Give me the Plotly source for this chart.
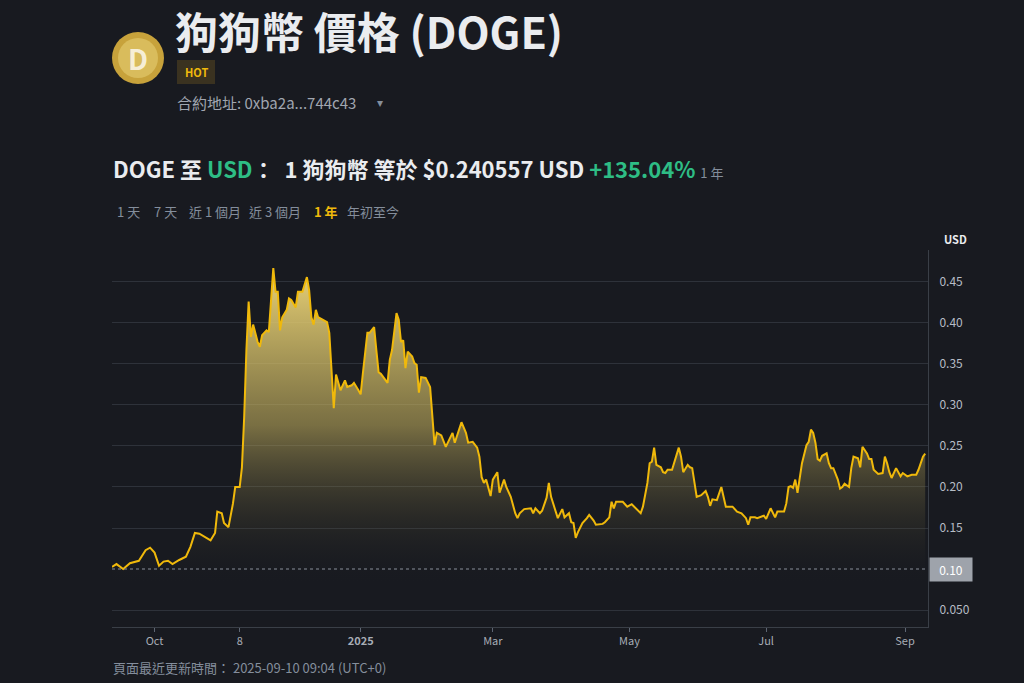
import pandas as pd
import plotly.graph_objects as go

# ---------------- data ----------------
prices_sep_oct_2024 = [
    ("2024-09-12", 0.1024), ("2024-09-14", 0.106), ("2024-09-17", 0.100), ("2024-09-20", 0.107),
    ("2024-09-24", 0.110), ("2024-09-27", 0.123), ("2024-09-29", 0.126), ("2024-10-01", 0.120),
    ("2024-10-03", 0.104), ("2024-10-05", 0.109), ("2024-10-07", 0.110), ("2024-10-09", 0.106),
    ("2024-10-12", 0.111), ("2024-10-15", 0.115), ("2024-10-17", 0.127), ("2024-10-19", 0.144),
    ("2024-10-21", 0.143), ("2024-10-24", 0.138), ("2024-10-26", 0.135), ("2024-10-28", 0.144),
    ("2024-10-29", 0.170), ("2024-10-31", 0.168),
]
prices_nov_dec_2024 = [
    ("2024-11-01", 0.156), ("2024-11-03", 0.151), ("2024-11-05", 0.180), ("2024-11-06", 0.200),
    ("2024-11-08", 0.200), ("2024-11-09", 0.224), ("2024-11-10", 0.285), ("2024-11-11", 0.367),
    ("2024-11-12", 0.426), ("2024-11-13", 0.383), ("2024-11-14", 0.398), ("2024-11-16", 0.377),
    ("2024-11-17", 0.371), ("2024-11-18", 0.385), ("2024-11-20", 0.391), ("2024-11-21", 0.389),
    ("2024-11-23", 0.467), ("2024-11-24", 0.438), ("2024-11-25", 0.438), ("2024-11-26", 0.391),
    ("2024-11-27", 0.407), ("2024-11-29", 0.416), ("2024-11-30", 0.430), ("2024-12-01", 0.428),
    ("2024-12-03", 0.419), ("2024-12-04", 0.438), ("2024-12-06", 0.438), ("2024-12-08", 0.456),
    ("2024-12-09", 0.440), ("2024-12-10", 0.407), ("2024-12-11", 0.398), ("2024-12-12", 0.416),
    ("2024-12-13", 0.407), ("2024-12-15", 0.404), ("2024-12-17", 0.401), ("2024-12-18", 0.388),
    ("2024-12-19", 0.334), ("2024-12-20", 0.296), ("2024-12-21", 0.337), ("2024-12-22", 0.327),
    ("2024-12-23", 0.318), ("2024-12-25", 0.330), ("2024-12-26", 0.322), ("2024-12-28", 0.324),
    ("2024-12-29", 0.327), ("2024-12-31", 0.318),
]
prices_jan_feb_2025 = [
    ("2025-01-01", 0.313), ("2025-01-02", 0.339), ("2025-01-04", 0.388), ("2025-01-05", 0.388),
    ("2025-01-07", 0.395), ("2025-01-08", 0.367), ("2025-01-09", 0.340), ("2025-01-10", 0.338),
    ("2025-01-13", 0.327), ("2025-01-14", 0.355), ("2025-01-15", 0.367), ("2025-01-17", 0.412),
    ("2025-01-18", 0.404), ("2025-01-19", 0.377), ("2025-01-20", 0.379), ("2025-01-21", 0.345),
    ("2025-01-22", 0.365), ("2025-01-24", 0.359), ("2025-01-25", 0.351), ("2025-01-26", 0.349),
    ("2025-01-27", 0.315), ("2025-01-28", 0.334), ("2025-01-30", 0.333), ("2025-02-01", 0.322),
    ("2025-02-02", 0.285), ("2025-02-03", 0.251), ("2025-02-04", 0.266), ("2025-02-06", 0.263),
    ("2025-02-08", 0.249), ("2025-02-09", 0.255), ("2025-02-11", 0.266), ("2025-02-12", 0.254),
    ("2025-02-13", 0.263), ("2025-02-15", 0.279), ("2025-02-17", 0.266), ("2025-02-18", 0.254),
    ("2025-02-20", 0.255), ("2025-02-22", 0.248), ("2025-02-23", 0.237), ("2025-02-24", 0.212),
    ("2025-02-25", 0.205), ("2025-02-26", 0.209), ("2025-02-28", 0.189),
]
prices_mar_apr_2025 = [
    ("2025-03-01", 0.209), ("2025-03-03", 0.218), ("2025-03-04", 0.193), ("2025-03-06", 0.209),
    ("2025-03-07", 0.200), ("2025-03-09", 0.188), ("2025-03-11", 0.168), ("2025-03-12", 0.162),
    ("2025-03-13", 0.168), ("2025-03-15", 0.173), ("2025-03-18", 0.174), ("2025-03-19", 0.168),
    ("2025-03-20", 0.174), ("2025-03-22", 0.168), ("2025-03-23", 0.171), ("2025-03-25", 0.187),
    ("2025-03-26", 0.205), ("2025-03-27", 0.188), ("2025-03-29", 0.172), ("2025-03-30", 0.162),
    ("2025-04-01", 0.173), ("2025-04-02", 0.163), ("2025-04-04", 0.168), ("2025-04-05", 0.157),
    ("2025-04-06", 0.156), ("2025-04-07", 0.138), ("2025-04-08", 0.145), ("2025-04-10", 0.156),
    ("2025-04-12", 0.162), ("2025-04-13", 0.166), ("2025-04-15", 0.159), ("2025-04-16", 0.154),
    ("2025-04-19", 0.155), ("2025-04-20", 0.157), ("2025-04-22", 0.163), ("2025-04-23", 0.182),
    ("2025-04-24", 0.174), ("2025-04-25", 0.182), ("2025-04-28", 0.182), ("2025-04-30", 0.176),
]
prices_may_jun_2025 = [
    ("2025-05-02", 0.179), ("2025-05-04", 0.174), ("2025-05-06", 0.168), ("2025-05-07", 0.176),
    ("2025-05-09", 0.205), ("2025-05-10", 0.229), ("2025-05-11", 0.231), ("2025-05-12", 0.248),
    ("2025-05-13", 0.227), ("2025-05-15", 0.224), ("2025-05-16", 0.218), ("2025-05-17", 0.217),
    ("2025-05-18", 0.221), ("2025-05-20", 0.221), ("2025-05-21", 0.230), ("2025-05-23", 0.248),
    ("2025-05-24", 0.237), ("2025-05-25", 0.218), ("2025-05-27", 0.227), ("2025-05-28", 0.224),
    ("2025-05-29", 0.223), ("2025-05-30", 0.205), ("2025-05-31", 0.188), ("2025-06-02", 0.190),
    ("2025-06-04", 0.195), ("2025-06-05", 0.188), ("2025-06-06", 0.177), ("2025-06-07", 0.185),
    ("2025-06-09", 0.184), ("2025-06-11", 0.200), ("2025-06-12", 0.187), ("2025-06-13", 0.176),
    ("2025-06-15", 0.176), ("2025-06-16", 0.176), ("2025-06-18", 0.170), ("2025-06-20", 0.168),
    ("2025-06-22", 0.162), ("2025-06-23", 0.154), ("2025-06-24", 0.163), ("2025-06-26", 0.163),
    ("2025-06-27", 0.162), ("2025-06-30", 0.165),
]
prices_jul_sep_2025 = [
    ("2025-07-01", 0.161), ("2025-07-03", 0.174), ("2025-07-05", 0.163), ("2025-07-06", 0.170),
    ("2025-07-09", 0.170), ("2025-07-10", 0.180), ("2025-07-11", 0.200), ("2025-07-12", 0.201),
    ("2025-07-13", 0.199), ("2025-07-14", 0.209), ("2025-07-15", 0.193), ("2025-07-16", 0.209),
    ("2025-07-17", 0.229), ("2025-07-19", 0.251), ("2025-07-20", 0.255), ("2025-07-21", 0.270),
    ("2025-07-22", 0.266), ("2025-07-23", 0.254), ("2025-07-24", 0.234), ("2025-07-25", 0.232),
    ("2025-07-26", 0.238), ("2025-07-28", 0.241), ("2025-07-29", 0.229), ("2025-07-30", 0.223),
    ("2025-07-31", 0.223), ("2025-08-02", 0.209), ("2025-08-03", 0.198), ("2025-08-04", 0.200),
    ("2025-08-05", 0.204), ("2025-08-07", 0.200), ("2025-08-08", 0.223), ("2025-08-09", 0.237),
    ("2025-08-11", 0.235), ("2025-08-12", 0.224), ("2025-08-13", 0.249), ("2025-08-15", 0.241),
    ("2025-08-16", 0.234), ("2025-08-17", 0.234), ("2025-08-18", 0.221), ("2025-08-20", 0.216),
    ("2025-08-22", 0.217), ("2025-08-23", 0.237), ("2025-08-24", 0.229), ("2025-08-25", 0.218),
    ("2025-08-26", 0.211), ("2025-08-28", 0.223), ("2025-08-29", 0.217), ("2025-08-30", 0.213),
    ("2025-08-31", 0.217), ("2025-09-02", 0.213), ("2025-09-04", 0.215), ("2025-09-06", 0.215),
    ("2025-09-07", 0.221), ("2025-09-09", 0.237), ("2025-09-10", 0.240557),
]

x_tick_dates = ["2024-10-01", "2024-11-08", "2025-01-01", "2025-03-01", "2025-05-01", "2025-07-01", "2025-09-01"]
x_tick_labels = ["Oct", "8", "<b>2025</b>", "Mar", "May", "Jul", "Sep"]
y_tick_values = [0.05, 0.15, 0.20, 0.25, 0.30, 0.35, 0.40, 0.45]
y_tick_labels = ["0.050", "0.15", "0.20", "0.25", "0.30", "0.35", "0.40", "0.45"]
base_price = 0.10
base_label = "0.10"
time_buttons = ["1 天", "7 天", "近 1 個月", "近 3 個月", "1 年", "年初至今"]
active_button = "1 年"

# ---------------- build ----------------
all_points = (prices_sep_oct_2024 + prices_nov_dec_2024 + prices_jan_feb_2025 +
              prices_mar_apr_2025 + prices_may_jun_2025 + prices_jul_sep_2025)
df = pd.DataFrame(all_points, columns=["date", "price"])
df["date"] = pd.to_datetime(df["date"])

BG = "#181a20"
FONT = "Noto Sans CJK TC, Noto Sans, sans-serif"
W, H = 1024, 683
L, R, T, B = 112, 928, 250, 627  # plot box in pixels


def px(x):
    return (x - L) / (R - L)


def py(y):
    return (B - y) / (B - T)


fig = go.Figure()
fig.add_trace(go.Scatter(
    x=df["date"], y=df["price"], mode="lines",
    line=dict(color="#f0b90b", width=2),
    fill="tozeroy",
    fillgradient=dict(type="vertical",
                      colorscale=[[0, "rgba(24,26,32,0)"], [0.5, "rgba(200,180,95,0.55)"],
                                  [1, "rgba(236,212,120,1)"]],
                      start=0.08, stop=0.47),
    hoverinfo="skip", showlegend=False,
))

fig.update_layout(
    width=W, height=H,
    paper_bgcolor=BG, plot_bgcolor=BG,
    margin=dict(l=L, r=W - R, t=T, b=H - B, pad=0),
    font=dict(family=FONT, color="#eaecef"),
    xaxis=dict(
        type="date",
        range=["2024-09-12", "2025-09-11 06:00"],
        tickvals=x_tick_dates, ticktext=x_tick_labels,
        showgrid=False, zeroline=False,
        showline=True, linecolor="#3a3f47", linewidth=1,
        ticks="outside", ticklen=4, tickcolor="#5e6673",
        tickfont=dict(size=11, color="#a7adb6"),
    ),
    yaxis=dict(
        side="right",
        range=[0.02927, 0.489],
        tickvals=y_tick_values, ticktext=y_tick_labels,
        showgrid=True, gridcolor="#2e323a", gridwidth=1,
        zeroline=False,
        showline=True, linecolor="#3a3f47", linewidth=1,
        ticks="", ticklabelstandoff=8,
        tickfont=dict(size=12, color="#b7bdc6"),
    ),
)

shapes = []
# start-price dotted line
shapes.append(dict(type="line", xref="paper", yref="y", x0=0, x1=1, y0=base_price, y1=base_price,
                   line=dict(color="#8a909a", width=1, dash="dot")))
# logo
shapes.append(dict(type="circle", xref="paper", yref="paper",
                   x0=px(112), x1=px(164), y0=py(84), y1=py(32),
                   fillcolor="#c7a23b", line=dict(width=0)))
shapes.append(dict(type="circle", xref="paper", yref="paper",
                   x0=px(118), x1=px(158), y0=py(78), y1=py(38),
                   fillcolor="#d9bc5c", line=dict(width=0)))
# HOT badge
shapes.append(dict(type="rect", xref="paper", yref="paper",
                   x0=px(177), x1=px(215), y0=py(84), y1=py(60),
                   fillcolor="#3a3220", line=dict(width=0), layer="below"))
fig.update_layout(shapes=shapes)

ann = []


def text(x, y, s, size, color, anchor="left", bold=False, **kw):
    ann.append(dict(x=px(x), y=py(y), xref="paper", yref="paper", text=("<b>%s</b>" % s) if bold else s,
                    showarrow=False, xanchor=anchor, yanchor="middle",
                    font=dict(family=FONT, size=size, color=color), **kw))


text(138, 58, "D", 28, "#f6eed6", anchor="center", bold=True)
text(174, 30, "狗狗幣 價格 (DOGE)", 43, "#eaecef", bold=True, borderpad=0)
text(196, 72, "HOT", 11, "#f0b90b", anchor="center", bold=True)
text(175, 102, "合約地址: 0xba2a...744c43", 15, "#a0a6b0")
text(375, 101, "▾", 12, "#848e9c")
text(111, 168,
     "<b>DOGE 至 <span style='color:#2ebd85'>USD</span>：  1 狗狗幣 等於 $0.240557 USD "
     "<span style='color:#2ebd85'>+135.04%</span></b> "
     "<span style='font-size:13px;color:#848e9c'>1 年</span>", 22, "#eaecef")

btn_x = [115, 152, 187, 247, 312, 345]
for bx, label in zip(btn_x, time_buttons):
    if label == active_button:
        text(bx, 211, label, 13, "#f0b90b", bold=True)
    else:
        text(bx, 211, label, 13, "#848e9c")

text(955, 239, "USD", 11, "#eaecef", anchor="center", bold=True)
text(111, 667, "頁面最近更新時間： 2025-09-10 09:04 (UTC+0)", 13, "#848e9c")

# base price label box on the axis
ann.append(dict(x=px(929), y=base_price, xref="paper", yref="y", text=base_label,
                showarrow=False, xanchor="left", yanchor="middle",
                bgcolor="#9ea3ab", borderpad=3, width=36,
                font=dict(family=FONT, size=12, color="#ffffff")))

fig.update_layout(annotations=ann)
fig.write_html("out.html",
               config={"displayModeBar": False},
               post_script="document.body.style.margin='0';document.body.style.overflow='hidden';"
                           "document.body.style.background='#181a20';")
